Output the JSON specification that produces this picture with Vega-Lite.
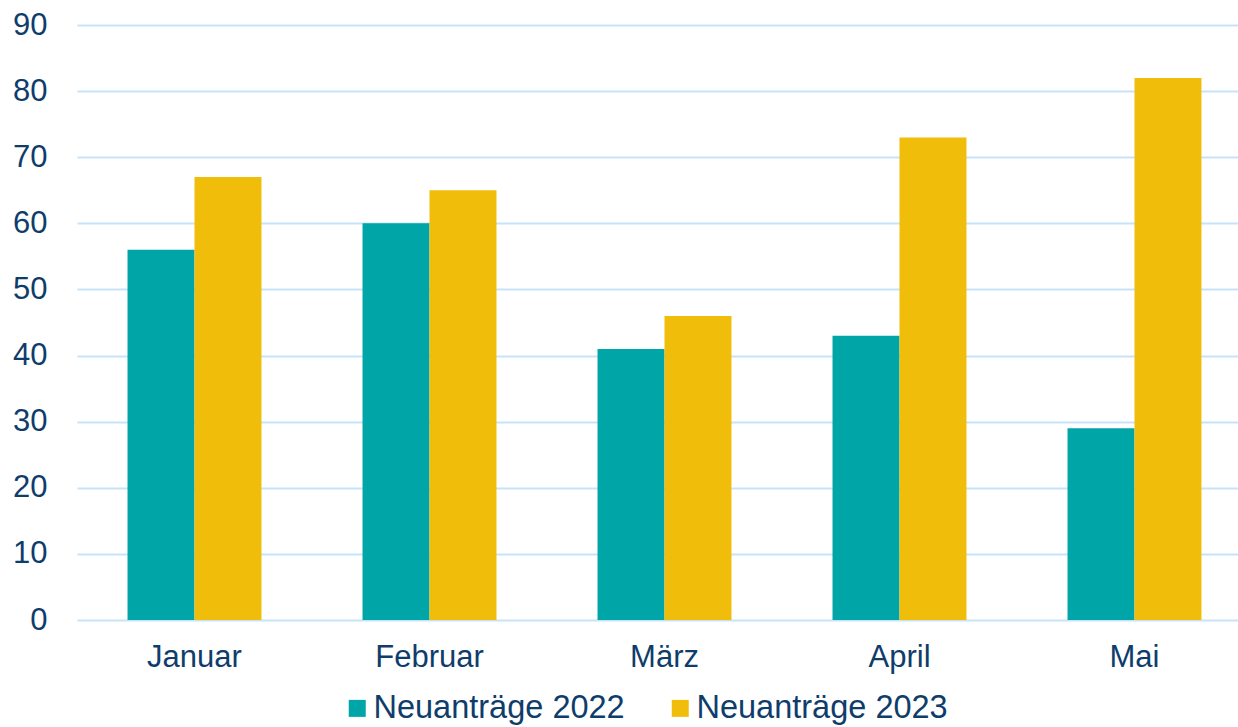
{
  "$schema": "https://vega.github.io/schema/vega-lite/v6.json",
  "autosize": {"type": "none"},
  "padding": {"left": 77, "top": 25, "right": 0, "bottom": 107},
  "width": 1161,
  "height": 595,
  "background": "white",
  "config": {
    "view": {"stroke": null},
    "font": "Liberation Sans",
    "axis": {"labelFont": "Liberation Sans", "labelColor": "#0F3D6B", "labelFontSize": 31, "ticks": false, "domain": false}
  },
  "data": {
    "values": [
      {"Monat": "Januar", "Serie": "Neuanträge 2022", "Wert": 56},
      {"Monat": "Januar", "Serie": "Neuanträge 2023", "Wert": 67},
      {"Monat": "Februar", "Serie": "Neuanträge 2022", "Wert": 60},
      {"Monat": "Februar", "Serie": "Neuanträge 2023", "Wert": 65},
      {"Monat": "März", "Serie": "Neuanträge 2022", "Wert": 41},
      {"Monat": "März", "Serie": "Neuanträge 2023", "Wert": 46},
      {"Monat": "April", "Serie": "Neuanträge 2022", "Wert": 43},
      {"Monat": "April", "Serie": "Neuanträge 2023", "Wert": 73},
      {"Monat": "Mai", "Serie": "Neuanträge 2022", "Wert": 29},
      {"Monat": "Mai", "Serie": "Neuanträge 2023", "Wert": 82}
    ]
  },
  "mark": {"type": "bar"},
  "encoding": {
    "x": {
      "field": "Monat", "type": "nominal", "sort": ["Januar", "Februar", "März", "April", "Mai"],
      "scale": {"range": [0, 1175], "paddingInner": 0.43, "paddingOuter": 0.215},
      "axis": {"title": null, "labelAngle": 0, "labelPadding": 22, "grid": false}
    },
    "xOffset": {"field": "Serie", "type": "nominal", "scale": {"paddingInner": 0, "paddingOuter": 0}},
    "y": {
      "field": "Wert", "type": "quantitative",
      "scale": {"domain": [0, 90], "nice": false},
      "axis": {"title": null, "values": [0, 10, 20, 30, 40, 50, 60, 70, 80, 90], "grid": true, "gridColor": "#C6E3F8", "gridWidth": 2, "labelPadding": 30}
    },
    "color": {
      "field": "Serie", "type": "nominal",
      "scale": {"domain": ["Neuanträge 2022", "Neuanträge 2023"], "range": ["#00A5A8", "#F0BE0A"]},
      "legend": {
        "title": null, "orient": "none", "legendX": 264, "legendY": 667, "direction": "horizontal",
        "symbolType": "square", "symbolSize": 289, "symbolStrokeWidth": 0, "symbolOpacity": 1,
        "labelFontSize": 32.5, "labelColor": "#0F3D6B", "labelFont": "Liberation Sans",
        "labelOffset": 0, "columnPadding": 39, "labelLimit": 400
      }
    }
  }
}
